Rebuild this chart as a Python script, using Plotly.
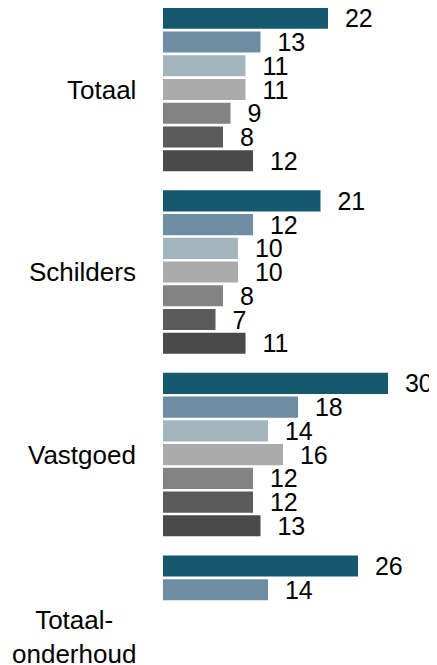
import plotly.graph_objects as go

# categories (top to bottom) and the seven series per category
categories = ["Totaal", "Schilders", "Vastgoed", "Totaal-onderhoud"]
category_labels = ["Totaal", "Schilders", "Vastgoed", "Totaal-<br>onderhoud"]

series_names = ["Reeks 1", "Reeks 2", "Reeks 3", "Reeks 4", "Reeks 5", "Reeks 6", "Reeks 7"]
series_1 = [22, 21, 30, 26]
series_2 = [13, 12, 18, 14]
series_3 = [11, 10, 14, None]
series_4 = [11, 10, 16, None]
series_5 = [9, 8, 12, None]
series_6 = [8, 7, 12, None]
series_7 = [12, 11, 13, None]

colors = ["#16596f", "#6d8da2", "#a3b5bd", "#ababab", "#838383", "#5a5a5a", "#4a4a4a"]

FONT = "Arial, Liberation Sans, sans-serif"

fig = go.Figure()

all_series = [series_1, series_2, series_3, series_4, series_5, series_6, series_7]
for name, values, color in zip(series_names, all_series, colors):
    # labels sit a bit away from the bar end, like the original
    labels = ["\u00a0\u00a0" + str(v) if v is not None else "" for v in values]
    fig.add_trace(
        go.Bar(
            y=categories,
            x=values,
            name=name,
            orientation="h",
            marker=dict(color=color, line=dict(width=0)),
            text=labels,
            textposition="outside",
            constraintext="none",
            cliponaxis=False,
            textfont=dict(family=FONT, size=25, color="black"),
            hoverinfo="x+name",
        )
    )

# category labels as annotations so the two-line one is centred
for cat, label in zip(categories, category_labels):
    fig.add_annotation(
        x=0,
        xref="paper",
        y=cat,
        yref="y",
        text=label,
        showarrow=False,
        xanchor="right",
        yanchor="middle",
        align="center",
        xshift=-25,
        font=dict(family=FONT, size=26, color="black"),
    )

# the page body adds an 8px margin, so the figure is 8px smaller and the
# left margin 8px narrower to keep the plot where the original has it
fig.update_layout(
    width=429,
    height=657,
    margin=dict(l=155, r=0, t=0, b=0),
    barmode="group",
    bargap=0.09,
    bargroupgap=0.11,
    showlegend=False,
    plot_bgcolor="white",
    paper_bgcolor="white",
    xaxis=dict(visible=False, range=[0, 36.53], fixedrange=True),
    yaxis=dict(
        type="category",
        categoryorder="array",
        categoryarray=categories,
        range=[3.1525, -0.4465],
        showticklabels=False,
        showgrid=False,
        zeroline=False,
        showline=False,
        fixedrange=True,
    ),
)

fig.write_html("out.html")
